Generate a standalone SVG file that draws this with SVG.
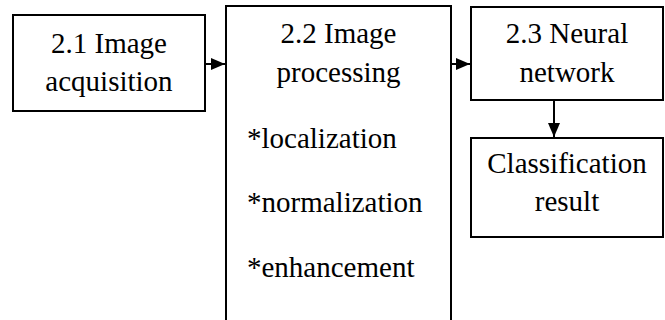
<svg xmlns="http://www.w3.org/2000/svg" width="665" height="320" viewBox="0 0 665 320">
  <style>
    .box { fill: #ffffff; stroke: #000000; stroke-width: 2; }
    .t { font-size: 29px; fill: #000000; }
    .c { text-anchor: middle; }
    .edge { stroke: #000000; stroke-width: 2; fill: none; }
  </style>
  <defs>
    <marker id="arrow" viewBox="0 0 14 12" refX="14" refY="6" markerWidth="14" markerHeight="12" markerUnits="userSpaceOnUse" orient="auto">
      <path d="M0,0 L14,6 L0,12 Z" fill="#000000"/>
    </marker>
  </defs>
  <rect x="0" y="0" width="665" height="320" fill="#ffffff"/>
  <g id="connectors">
    <line class="edge" x1="205" y1="64" x2="225" y2="64" marker-end="url(#arrow)"/>
    <line class="edge" x1="451" y1="64" x2="470" y2="64" marker-end="url(#arrow)"/>
    <line class="edge" x1="554" y1="100" x2="554" y2="137" marker-end="url(#arrow)"/>
  </g>
  <g font-family="'Liberation Serif', 'DejaVu Serif', serif">
  <g id="node-acquisition">
    <rect class="box" x="13" y="15" width="192" height="96"/>
    <text class="t c" x="109" y="53">2.1 Image</text>
    <text class="t c" x="109" y="91">acquisition</text>
  </g>
  <g id="node-processing">
    <rect class="box" x="226" y="6" width="225" height="330"/>
    <text class="t c" x="338.5" y="43">2.2 Image</text>
    <text class="t c" x="338.5" y="82">processing</text>
    <text class="t" x="247" y="148">*localization</text>
    <text class="t" x="247" y="212">*normalization</text>
    <text class="t" x="247" y="277">*enhancement</text>
  </g>
  <g id="node-neural">
    <rect class="box" x="471" y="7" width="192" height="93"/>
    <text class="t c" x="567" y="43">2.3 Neural</text>
    <text class="t c" x="567" y="82">network</text>
  </g>
  <g id="node-result">
    <rect class="box" x="471" y="138" width="192" height="99"/>
    <text class="t c" x="567" y="173">Classification</text>
    <text class="t c" x="567" y="211">result</text>
  </g>
  </g>
</svg>
